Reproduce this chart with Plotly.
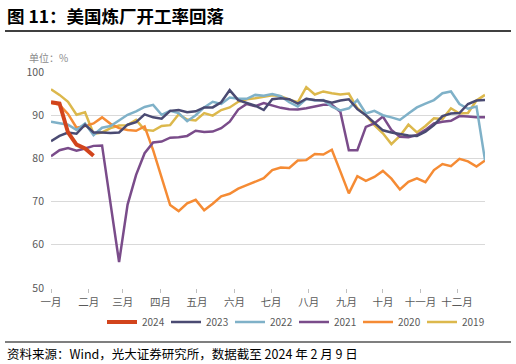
import plotly.graph_objects as go

weeks = list(range(52))

y2024 = [93.0, 92.7, 86.0, 83.2, 82.3, 80.6]
y2023 = [84.0, 85.2, 86.0, 85.7, 87.8, 86.0, 86.0, 85.9, 86.0, 87.8, 88.4, 90.2, 89.5, 89.2,
         91.0, 91.2, 90.7, 90.9, 91.8, 91.8, 93.0, 95.8, 93.5, 92.8, 92.2, 91.2, 93.7, 93.9,
         93.7, 92.7, 93.8, 93.5, 93.4, 92.9, 93.4, 93.7, 91.4, 90.0, 88.3, 86.5, 86.0, 85.6,
         85.3, 85.2, 86.2, 87.7, 89.8, 90.4, 90.5, 92.6, 93.4, 93.5]
y2022 = [88.5, 88.1, 87.8, 86.6, 88.1, 85.4, 87.1, 87.5, 88.9, 90.1, 90.9, 91.9, 92.4, 90.1,
         91.0, 90.5, 88.6, 90.0, 91.8, 93.1, 92.6, 94.1, 93.8, 93.8, 94.7, 94.5, 94.9, 94.4,
         93.0, 92.0, 93.8, 93.4, 93.5, 92.0, 91.1, 91.6, 93.5, 90.4, 91.0, 90.0, 89.5, 88.9,
         90.4, 91.8, 92.7, 93.5, 95.1, 95.5, 92.6, 91.5, 92.0, 79.6]
y2021 = [80.5, 81.9, 82.4, 81.8, 82.3, 82.9, 83.0, 69.5, 56.0, 69.3, 76.2, 81.2, 83.7, 83.9,
         84.8, 84.9, 85.2, 86.4, 86.1, 86.2, 87.0, 88.5, 91.3, 92.6, 92.1, 92.8, 92.2, 91.7,
         91.4, 91.3, 91.6, 92.0, 92.4, 92.4, 90.8, 81.9, 81.9, 87.3, 88.1, 89.7, 86.6, 85.0,
         84.9, 85.4, 86.6, 88.1, 88.5, 88.7, 89.8, 89.7, 89.5, 89.5]
y2020 = [92.9, 92.4, 90.3, 87.1, 87.5, 88.1, 89.5, 88.0, 87.0, 86.6, 86.4, 87.4, 81.9, 75.6,
         69.2, 67.8, 69.6, 70.4, 68.0, 69.5, 71.2, 71.8, 73.0, 73.8, 74.6, 75.4, 77.3, 77.9,
         77.8, 79.5, 79.6, 81.0, 80.9, 82.0, 77.0, 71.9, 75.9, 74.8, 75.7, 77.1, 75.3, 72.8,
         74.6, 75.4, 74.5, 77.3, 78.7, 78.2, 79.9, 79.3, 78.1, 79.5]
y2019 = [96.0, 94.7, 93.1, 90.1, 90.7, 85.7, 86.0, 87.0, 87.6, 87.7, 88.9, 86.6, 86.4, 87.5,
         87.7, 90.2, 89.0, 88.8, 90.5, 89.9, 91.2, 91.8, 93.1, 93.7, 93.9, 94.2, 94.6, 94.4,
         93.6, 93.0, 96.5, 94.8, 95.5, 95.1, 94.8, 95.0, 91.6, 90.0, 87.7, 85.8, 83.3, 85.2,
         87.8, 86.0, 87.5, 89.3, 89.1, 91.6, 90.4, 90.5, 93.4, 94.7]

month_labels = ["一月", "二月", "三月", "四月", "五月", "六月", "七月", "八月", "九月", "十月", "十一月", "十二月"]
month_start_days = [0, 31, 59, 90, 120, 151, 181, 212, 243, 273, 304, 334]
month_ticks = [d / 7 for d in month_start_days]

series = [
    ("2024", y2024, "#d2441c", 4),
    ("2023", y2023, "#4a4a72", 2.5),
    ("2022", y2022, "#7fb1c8", 2.5),
    ("2021", y2021, "#7a4c8a", 2.5),
    ("2020", y2020, "#f58b34", 2.5),
    ("2019", y2019, "#dcb84c", 2.5),
]

FONT = "Noto Sans CJK SC, Liberation Sans, sans-serif"
L, R, T, B = 51, 485, 72, 288
W, H = 516, 364
def px(x):
    return (x - L) / (R - L)
def py(y):
    return (B - y) / (B - T)

fig = go.Figure()
legend_ids = ["legend", "legend2", "legend3", "legend4", "legend5", "legend6"]
for k, (name, vals, color, w) in reversed(list(enumerate(series))):
    fig.add_trace(go.Scatter(
        x=weeks[:len(vals)], y=vals, mode="lines", name=name,
        line=dict(color=color, width=w), legend=legend_ids[k],
    ))

legend_layout = {}
for k, lid in enumerate(legend_ids):
    legend_layout[lid] = dict(orientation="h", x=px(102 + 64 * k), xanchor="left", y=py(322),
                              yanchor="middle", font=dict(size=10, color="#595959", family=FONT),
                              bgcolor="rgba(0,0,0,0)", itemwidth=30)

fig.update_layout(
    width=W, height=H,
    margin=dict(l=L, r=W - R, t=T, b=H - B, autoexpand=False),
    paper_bgcolor="white", plot_bgcolor="white",
    font=dict(family=FONT, color="#595959", size=10),
    showlegend=True,
    xaxis=dict(range=[0, 51], tickmode="array", tickvals=month_ticks, ticktext=month_labels,
               showgrid=False, zeroline=False, ticks="outside", ticklen=4, tickcolor="#bfbfbf",
               showline=False, tickfont=dict(size=10.5, color="#595959")),
    yaxis=dict(range=[50, 100], dtick=10, tick0=50, showgrid=True, gridcolor="#d9d9d9",
               gridwidth=1, zeroline=False, showline=False, ticks="", ticklabelstandoff=6,
               tickfont=dict(size=10.5, color="#595959")),
    shapes=[
        dict(type="line", xref="paper", yref="paper", x0=px(5), x1=px(511), y0=py(31), y1=py(31),
             line=dict(color="black", width=1.5)),
        dict(type="line", xref="paper", yref="paper", x0=px(5), x1=px(511), y0=py(342), y1=py(342),
             line=dict(color="black", width=1.2)),
    ],
    annotations=[
        dict(text="<b>图 11：美国炼厂开工率回落</b>", xref="paper", yref="paper", x=px(5), y=py(15),
             xanchor="left", yanchor="middle", showarrow=False,
             font=dict(size=17.5, color="black", family=FONT)),
        dict(text="单位：%", xref="paper", yref="paper", x=px(27), y=py(58),
             xanchor="left", yanchor="middle", showarrow=False,
             font=dict(size=10, color="#8c8c8c", family=FONT)),
        dict(text="资料来源：Wind，光大证券研究所，数据截至 2024 年 2 月 9 日", xref="paper", yref="paper",
             x=px(5), y=py(353), xanchor="left", yanchor="middle", showarrow=False,
             font=dict(size=12.5, color="black", family=FONT)),
    ],
    **legend_layout,
)

fig.write_html("out.html", config={"displayModeBar": False},
               post_script="document.body.style.margin='0px';")
